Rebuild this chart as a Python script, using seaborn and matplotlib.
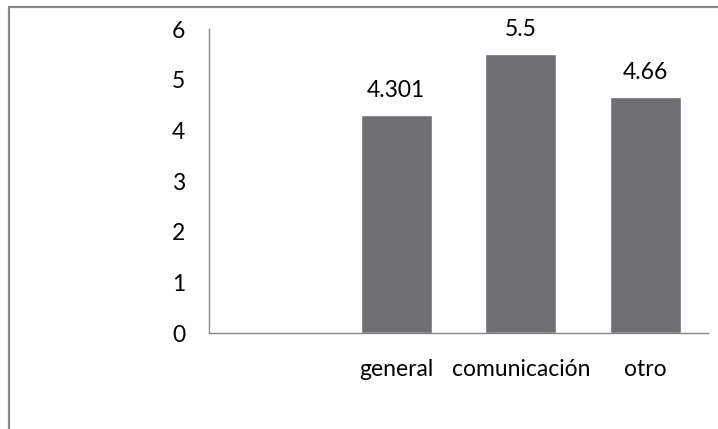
import numpy as np
import pandas as pd
import matplotlib
matplotlib.use("Agg")
import matplotlib.pyplot as plt
import seaborn as sns
from matplotlib.lines import Line2D

categories = ["", "general", "comunicación", "otro"]
bar_categories = ["general", "comunicación", "otro"]
values = [4.301, 5.5, 4.66]
value_labels = ["4.301", "5.5", "4.66"]
yticks = [0, 1, 2, 3, 4, 5, 6]

sns.set_theme(style="white")
plt.rcParams["font.family"] = ["Lato", "DejaVu Sans"]

W, H = 718, 429
FS = 16.5
fig = plt.figure(figsize=(W / 100, H / 100), dpi=100)
ax = fig.add_axes([209 / W, (H - 333) / H, (708 - 209) / W, (333 - 29) / H])

df = pd.DataFrame({"cat": bar_categories, "val": values})
sns.barplot(data=df, x="cat", y="val", order=categories, color="#6F6E73",
            saturation=1, width=0.57, errorbar=None, ax=ax)

ax.bar_label(ax.containers[0], labels=value_labels, padding=10,
             fontsize=FS, color="#000000")

ax.set_ylim(0, 6)
ax.set_yticks(yticks)
ax.set_yticklabels([str(t) for t in yticks])
ax.set_xlim(-0.5, 3.5)
ax.set_xlabel("")
ax.set_ylabel("")
ax.tick_params(axis="y", length=0, pad=17, labelsize=FS, colors="#000000")
ax.tick_params(axis="x", length=0, pad=19, labelsize=FS, colors="#000000")
for s in ["top", "right"]:
    ax.spines[s].set_visible(False)
for s in ["left", "bottom"]:
    ax.spines[s].set_color("#868686")
    ax.spines[s].set_linewidth(1.0)

# outer chart border (top and left visible)
fig.add_artist(Line2D([9 / W, 9 / W], [0, 1 - 7 / H], transform=fig.transFigure,
                      color="#888888", linewidth=1.6))
fig.add_artist(Line2D([9 / W, 1], [1 - 7 / H, 1 - 7 / H], transform=fig.transFigure,
                      color="#888888", linewidth=1.6))

fig.savefig("out.png", dpi=100, facecolor="white")
